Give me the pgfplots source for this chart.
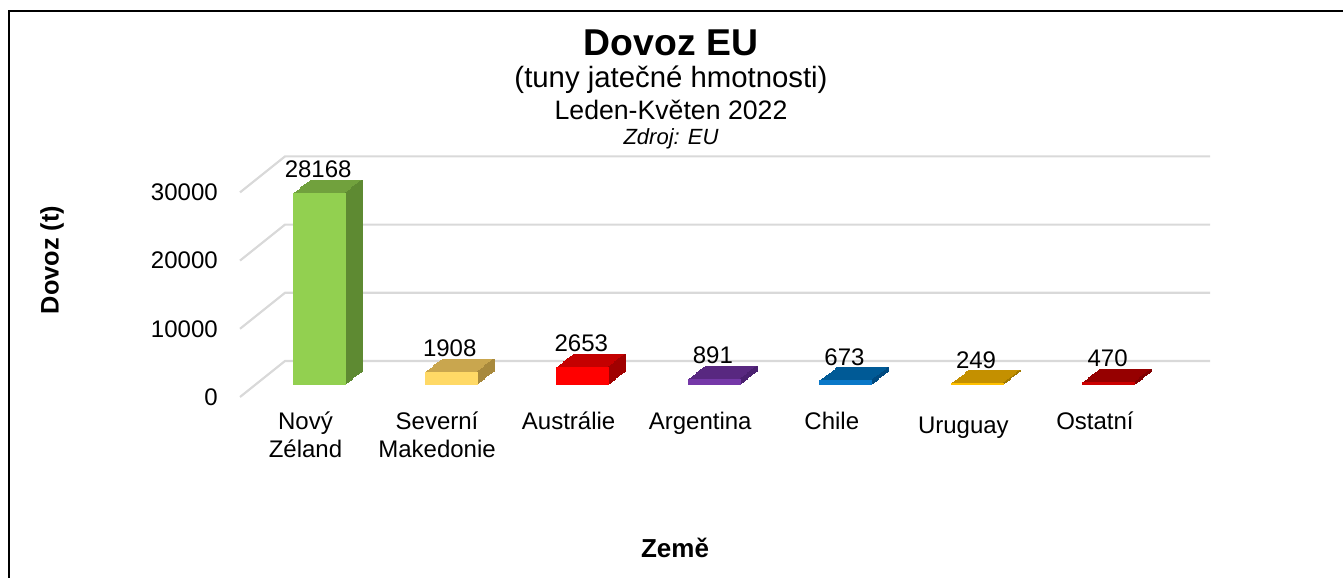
\documentclass[border=0pt]{standalone}
\usepackage{fontspec}
\setmainfont{Liberation Sans}
\usepackage{pgfplots}
\pgfplotsset{compat=1.18}
\definecolor{gridc}{HTML}{D9D9D9}
\definecolor{nzF}{HTML}{92D050}\definecolor{nzT}{HTML}{71A13D}\definecolor{nzS}{HTML}{5E8A32}
\definecolor{smF}{HTML}{FFD966}\definecolor{smT}{HTML}{C9A64E}\definecolor{smS}{HTML}{A8893C}
\definecolor{auF}{HTML}{FF0000}\definecolor{auT}{HTML}{C40000}\definecolor{auS}{HTML}{A00000}
\definecolor{arF}{HTML}{7538A8}\definecolor{arT}{HTML}{582880}\definecolor{arS}{HTML}{4A2070}
\definecolor{chF}{HTML}{0A78C8}\definecolor{chT}{HTML}{005A96}\definecolor{chS}{HTML}{004A80}
\definecolor{urF}{HTML}{FFC000}\definecolor{urT}{HTML}{C49000}\definecolor{urS}{HTML}{A07800}
\definecolor{osF}{HTML}{CC0000}\definecolor{osT}{HTML}{960000}\definecolor{osS}{HTML}{800000}
% 3D-looking bar: x, value, front, top, side colours
\newcommand{\tdbar}[5]{%
  \pgfplotsinvokeforeach{1,...,12}{%
    \addplot[ybar, bar width=39.75pt, bar shift=0pt, fill=#4, draw=none,
      xshift=##1*1.0625pt, yshift=##1*0.8125pt] coordinates {(#1,#2)};
  }%
  \pgfplotsinvokeforeach{1,...,12}{%
    \addplot[ybar, bar width=1.6pt, bar shift=19.075pt, fill=#5, draw=none,
      xshift=##1*1.0625pt, yshift=##1*0.8125pt] coordinates {(#1,#2)};
  }%
  \addplot[ybar, bar width=39.75pt, bar shift=0pt, fill=#3, draw=none,
    nodes near coords,
    every node near coord/.append style={anchor=base, inner sep=0pt,
      yshift=11.25pt, xshift=-1pt, text=black,
      font=\fontsize{18}{21}\selectfont,
      /pgf/number format/.cd, fixed, 1000 sep={}, assume math mode=true}]
    coordinates {(#1,#2)};
}
\begin{document}
\begin{tikzpicture}[x=0.75pt,y=0.75pt]
\useasboundingbox (0,0) rectangle (1343,578);
\draw[line width=1.2pt] (9,0) -- (9,567) -- (1343,567);
\node[font=\bfseries\fontsize{28}{32}\selectfont, anchor=base] at (671,578-56) {Dovoz EU};
\node[font=\fontsize{22}{26}\selectfont, anchor=base] at (671,578-88) {(tuny jatečné hmotnosti)};
\node[font=\fontsize{20}{24}\selectfont, anchor=base] at (671,578-120) {Leden-Květen 2022};
\node[font=\itshape\fontsize{16.5}{20}\selectfont, anchor=base] at (671,578-145) {Zdroj: EU};
\node[font=\bfseries\fontsize{19}{22}\selectfont, rotate=90] at (52,578-260) {Dovoz (t)};
\node[font=\bfseries\fontsize{19.5}{22}\selectfont] at (675,578-548) {Země};
\begin{axis}[
  at={(180pt,135.75pt)}, anchor=south west,
  scale only axis, width=727.5pt, height=180.75pt,
  xmin=-0.604, xmax=6.768, ymin=-1760, ymax=33578,
  clip=false,
  axis line style={draw=none},
  major tick length=0pt,
  ytick={0,10000,20000,30000},
  scaled y ticks=false,
  yticklabel style={anchor=east, inner sep=0pt, xshift=-16.5pt, yshift=-9pt,
    font=\fontsize{18}{21}\selectfont,
    /pgf/number format/.cd, fixed, 1000 sep={}, assume math mode=true},
  xtick={0,1,2,3,4,5,6},
  xticklabels={Nový\\Zéland, Severní\\Makedonie, Austrálie, Argentina, Chile, {\rule{0pt}{16.5pt}Uruguay}, Ostatní},
  xticklabel style={anchor=north, align=center, inner sep=0pt, yshift=-11pt, xshift=-10.5pt,
    font=\fontsize{18}{21}\selectfont},
]
\draw[gridc, line width=1.6pt] (axis cs:-0.604,-1760) -- (axis cs:-0.262,3519) -- (axis cs:6.768,3519);
\draw[gridc, line width=1.6pt] (axis cs:-0.604,8240) -- (axis cs:-0.262,13519) -- (axis cs:6.768,13519);
\draw[gridc, line width=1.6pt] (axis cs:-0.604,18240) -- (axis cs:-0.262,23519) -- (axis cs:6.768,23519);
\draw[gridc, line width=1.6pt] (axis cs:-0.604,28240) -- (axis cs:-0.262,33519) -- (axis cs:6.768,33519);
\tdbar{0}{28168}{nzF}{nzT}{nzS}
\tdbar{1}{1908}{smF}{smT}{smS}
\tdbar{2}{2653}{auF}{auT}{auS}
\tdbar{3}{891}{arF}{arT}{arS}
\tdbar{4}{673}{chF}{chT}{chS}
\tdbar{5}{249}{urF}{urT}{urS}
\tdbar{6}{470}{osF}{osT}{osS}
\end{axis}
\end{tikzpicture}
\end{document}
